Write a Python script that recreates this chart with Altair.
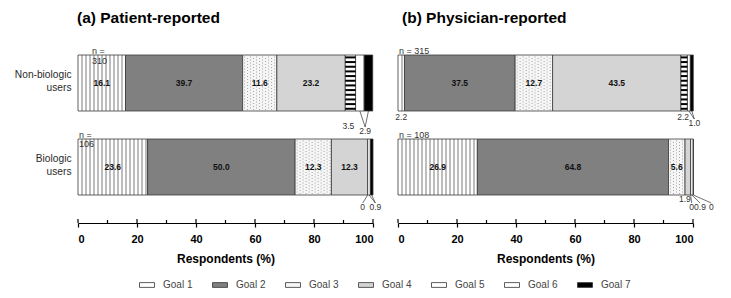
import altair as alt
import pandas as pd
import numpy as np

# ---------------- data ----------------
groups = ["Non-biologic users", "Biologic users"]
goals = ["Goal 1", "Goal 2", "Goal 3", "Goal 4", "Goal 5", "Goal 6", "Goal 7"]
patient_nonbio = [16.1, 39.7, 11.6, 23.2, 3.5, 2.9, 2.9]
patient_bio = [23.6, 50.0, 12.3, 12.3, 0.0, 0.9, 0.9]
physician_nonbio = [2.2, 37.5, 12.7, 43.5, 2.2, 1.0, 1.0]
physician_bio = [26.9, 64.8, 5.6, 1.9, 0.0, 0.9, 0.0]
patient_n = [310, 106]
physician_n = [315, 108]
x_ticks = list(range(0, 101, 10))

# ---------------- style / layout ----------------
FONT = "Liberation Sans"
goal_fill = ["#ffffff", "#808080", "#f6f6f6", "#d4d4d4", "#ffffff", "#ffffff", "#000000"]
PW = 295            # plot width (px)
PH = 178            # plot height (px)
ROW_PX = 84.0       # pixels per row unit
BAR = 56 / ROW_PX   # bar thickness in row units
XPX = PW / 100.0    # pixels per percent
Y_DOMAIN = [-38 / ROW_PX, -38 / ROW_PX + PH / ROW_PX]

# small outside labels: (group index, goal indices, dx px, dy px below bar, pointer lines)
patient_small = [(0, [4], -2, 15, False), (0, [5, 6], 1, 20, True),
                 (1, [4], -5, 12, True), (1, [5, 6], 5, 12, True)]
physician_small = [(0, [0], 0, 6, False), (0, [4], -1, 6, False), (0, [5, 6], 4, 12, True),
                   (1, [3], -3, 4, False), (1, [4], 1, 12, True), (1, [5], 8, 12, True),
                   (1, [6], 18, 12, True)]


def fmt(v):
    return "0" if v == 0 else f"{v:.1f}"


def segments(vals_by_group):
    rows = []
    for gi, vals in enumerate(vals_by_group):
        cum = 0.0
        for goal, v in zip(goals, vals):
            rows.append(dict(row=gi, goal=goal, value=v, start=cum, end=cum + v,
                             mid=cum + v / 2, y0=gi - BAR / 2, y1=gi + BAR / 2, label=fmt(v)))
            cum += v
    return pd.DataFrame(rows)


def build_panel(title, title_dx, vals_by_group, ns, small, two_line_n, n_dx, show_y):
    seg = segments(vals_by_group)

    # vertical stripe pattern for Goal 1
    vs = []
    for _, r in seg[seg.goal == "Goal 1"].iterrows():
        step = 4.0 / XPX
        p = r.start + step
        while p < r.end - step * 0.4:
            vs.append(dict(pos=p, y0=r.y0, y1=r.y1))
            p += step
    vs = pd.DataFrame(vs)

    # horizontal stripe pattern for Goal 5
    hs = []
    for _, r in seg[(seg.goal == "Goal 5") & (seg.value > 0)].iterrows():
        for k in range(12):
            hs.append(dict(start=r.start, end=r.end, yy=r.y0 + (2.4 + k * 4.67) / ROW_PX))
    hs = pd.DataFrame(hs)

    # dotted pattern for Goal 3
    ds = []
    for _, r in seg[seg.goal == "Goal 3"].iterrows():
        for i, px in enumerate(np.arange(r.start * XPX + 2, r.end * XPX - 1, 3.0)):
            for j, py in enumerate(np.arange(2, 55, 3.0)):
                ds.append(dict(x=px / XPX, y=r.y0 + (py + (1.5 if i % 2 else 0)) / ROW_PX))
    ds = pd.DataFrame(ds)

    big = seg[seg.value >= 5]

    # small labels & pointer lines
    sl, lines = [], []
    for gi, gidx, dx, dy, ptr in small:
        sub = seg[seg.row == gi].reset_index(drop=True)
        centers = [sub.loc[i, "mid"] for i in gidx]
        lx = float(np.mean(centers)) + dx / XPX
        bottom = gi + BAR / 2
        ly = bottom + dy / ROW_PX
        sl.append(dict(x=lx, y=ly, label=sub.loc[gidx[0], "label"]))
        if ptr:
            for c in centers:
                lines.append(dict(x=c, x2=lx, y=bottom, y2=ly - 4 / ROW_PX))
    sl = pd.DataFrame(sl)
    lines = pd.DataFrame(lines)

    # n labels
    nl = []
    for gi, n in enumerate(ns):
        top = gi - BAR / 2
        if two_line_n:
            nl.append(dict(x=n_dx[gi] / XPX, y=top - 4 / ROW_PX, label="n ="))
            nl.append(dict(x=n_dx[gi] / XPX, y=top + (6 if gi == 0 else 5) / ROW_PX, label=str(n)))
        else:
            nl.append(dict(x=n_dx[gi] / XPX, y=top - 4 / ROW_PX, label=f"n = {n}"))
    nl = pd.DataFrame(nl)

    # inner tick marks (ticks crossing the axis line)
    it = pd.DataFrame([dict(x=v, y=Y_DOMAIN[1], y2=Y_DOMAIN[1] - (4 if v % 20 == 0 else 3) / ROW_PX)
                       for v in x_ticks])

    xscale = alt.Scale(domain=[0, 100], nice=False, zero=False)
    yscale = alt.Scale(domain=Y_DOMAIN, reverse=True, nice=False, zero=False)
    xaxis = alt.Axis(values=x_ticks, title="Respondents (%)",
                     labelExpr="datum.value % 20 == 0 ? datum.label : ''",
                     tickSize={"condition": {"test": "datum.value % 20 == 0", "value": 4}, "value": 0},
                     grid=False, domainColor="#000", tickColor="#000", labelColor="#000",
                     domainWidth=1.2, tickWidth=1.2,
                     labelFont=FONT, labelFontSize=11, labelFontWeight="bold",
                     titleFont=FONT, titleFontSize=12, titleFontWeight="bold", titleColor="#000",
                     titlePadding=9, labelPadding=6)
    group_js = "[" + ",".join("'" + g + "'" for g in groups) + "]"
    if show_y:
        yaxis = alt.Axis(title=None, domain=False, ticks=False, grid=False, values=[0, 1],
                         labelExpr=f"split({group_js}[datum.value], ' ')",
                         labelFont=FONT, labelFontSize=10.2, labelColor="#2a2a2a", labelLineHeight=13,
                         labelPadding=7, labelOffset=-9, minExtent=74, maxExtent=74)
    else:
        yaxis = None

    bars = alt.Chart(seg).mark_bar(stroke="#3a3a3a", strokeWidth=0.8).encode(
        x=alt.X("start:Q", scale=xscale, axis=xaxis),
        x2="end:Q",
        y=alt.Y("y0:Q", scale=yscale, axis=yaxis),
        y2="y1:Q",
        fill=alt.Fill("goal:N", sort=goals,
                      scale=alt.Scale(domain=goals, range=goal_fill),
                      legend=alt.Legend(title=None, orient="none", legendX=61, legendY=232,
                                        direction="horizontal", columns=7,
                                        symbolType="M-1,-0.32L1,-0.32L1,0.32L-1,0.32Z",
                                        symbolSize=225, symbolStrokeColor="#333",
                                        symbolStrokeWidth=0.8, labelFont=FONT, labelFontSize=10,
                                        labelColor="#444", columnPadding=17, labelOffset=8)),
    )
    layers = [bars]
    if len(vs):
        layers.append(alt.Chart(vs).mark_rule(strokeWidth=0.7, color="#444").encode(
            x=alt.X("pos:Q", scale=xscale), y=alt.Y("y0:Q", scale=yscale), y2="y1:Q"))
    if len(hs):
        layers.append(alt.Chart(hs).mark_rule(strokeWidth=2, color="#000").encode(
            x=alt.X("start:Q", scale=xscale), x2="end:Q", y=alt.Y("yy:Q", scale=yscale)))
    if len(ds):
        layers.append(alt.Chart(ds).mark_square(size=0.8, color="#9a9a9a", opacity=1).encode(
            x=alt.X("x:Q", scale=xscale), y=alt.Y("y:Q", scale=yscale)))
    layers.append(alt.Chart(big).mark_text(font=FONT, fontSize=8.5, fontWeight="bold",
                                           color="#111").encode(
        x=alt.X("mid:Q", scale=xscale), y=alt.Y("row:Q", scale=yscale), text="label:N"))
    if len(lines):
        layers.append(alt.Chart(lines).mark_rule(strokeWidth=0.7, color="#333").encode(
            x=alt.X("x:Q", scale=xscale), x2="x2:Q",
            y=alt.Y("y:Q", scale=yscale), y2="y2:Q"))
    layers.append(alt.Chart(sl).mark_text(font=FONT, fontSize=8.5, color="#333",
                                          baseline="middle").encode(
        x=alt.X("x:Q", scale=xscale), y=alt.Y("y:Q", scale=yscale), text="label:N"))
    layers.append(alt.Chart(nl).mark_text(font=FONT, fontSize=9, color="#333", align="left",
                                          baseline="middle").encode(
        x=alt.X("x:Q", scale=xscale), y=alt.Y("y:Q", scale=yscale), text="label:N"))
    layers.append(alt.Chart(it).mark_rule(strokeWidth=1.2, color="#000").encode(
        x=alt.X("x:Q", scale=xscale), y=alt.Y("y:Q", scale=yscale), y2="y2:Q"))

    return alt.layer(*layers).properties(
        width=PW, height=PH,
        title=alt.TitleParams(title, anchor="start", frame="group", font=FONT, fontSize=15.5,
                              fontWeight="bold", color="#000", offset=19, dx=title_dx))


left = build_panel("(a) Patient-reported", -1, [patient_nonbio, patient_bio], patient_n,
                   patient_small, True, [14, 1], True)
right = build_panel("(b) Physician-reported", 4, [physician_nonbio, physician_bio], physician_n,
                    physician_small, False, [1, 1], False)

chart = alt.hconcat(left, right, spacing=25, bounds="flush").properties(
    padding={"left": 4, "top": 10, "right": 5, "bottom": 2},
    background="white",
).configure_view(stroke=None, strokeWidth=0)

chart.save("out.html", embed_options={"renderer": "svg", "actions": False})
